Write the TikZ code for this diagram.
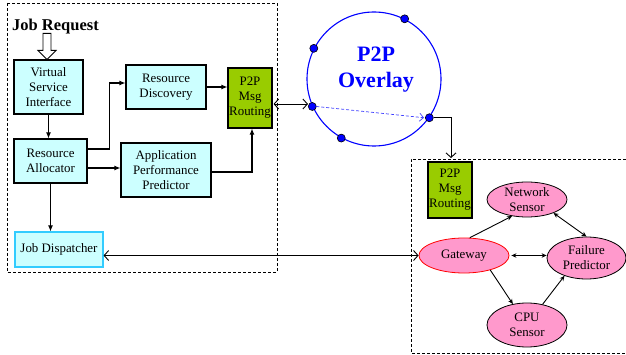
\documentclass[tikz,border=0pt]{standalone}
\usepackage{fontspec}
\setmainfont{Liberation Serif}
\usetikzlibrary{arrows.meta,shapes.geometric,calc}
\definecolor{lcyan}{HTML}{CCFFFF}
\definecolor{pgreen}{HTML}{99CC00}
\definecolor{epink}{HTML}{FF99CC}
\definecolor{jdb}{HTML}{33CCFF}
\definecolor{ovblue}{HTML}{0000FF}
\begin{document}
\begin{tikzpicture}[x=1pt,y=-1pt,
  txt/.style={font=\fontsize{12.9}{15}\selectfont, align=center, inner sep=0pt},
  box/.style={txt, draw, line width=1.1pt, fill=lcyan},
  gbox/.style={txt, draw, line width=1.1pt, fill=pgreen},
  ell/.style={txt, ellipse, draw, line width=0.8pt, fill=epink},
  frame/.style={line width=0.8pt, dash pattern=on 3pt off 2pt},
  arrL/.style={-{Latex[length=6pt,width=5pt]}, line width=1.1pt},
  arrR/.style={-{Stealth[length=5pt,width=4.5pt]}, line width=0.9pt},
  arrRR/.style={{Stealth[length=5pt,width=4.5pt]}-{Stealth[length=5pt,width=4.5pt]}, line width=0.9pt},
  barb/.style={{Straight Barb[length=4.5pt,width=10pt]}-{Straight Barb[length=4.5pt,width=10pt]}, line width=0.9pt},
  barbone/.style={-{Straight Barb[length=4.5pt,width=10pt]}, line width=0.9pt},
  dot/.style={circle, draw=black, fill=ovblue, line width=0.6pt, minimum size=8pt, inner sep=0pt}
]
\useasboundingbox (0,0) rectangle (626,355);
% frames
\draw[frame] (7,3) rectangle (277,272);
\draw[frame] (626,159) -- (411,159) -- (411,353) -- (626,353);

% left part
\node[anchor=west, inner sep=0pt, font=\fontsize{16.5}{18}\selectfont\bfseries] (jr) at (12,27) {Job Request};
\node[box, minimum width=69pt, minimum height=54pt] (vsi) at (48.5,87) {Virtual\\Service\\Interface};
\node[box, minimum width=80pt, minimum height=44pt] (rd) at (166,87) {Resource\\Discovery};
\node[gbox, minimum width=44pt, minimum height=60pt] (p2pl) at (250,98) {P2P\\Msg\\Routing};
\node[box, minimum width=73pt, minimum height=44pt] (ra) at (50.5,161) {Resource\\Allocator};
\node[box, minimum width=90pt, minimum height=54pt] (app) at (166,170) {Application\\Performance\\Predictor};
\node[box, draw=jdb, minimum width=88pt, minimum height=35pt] (jd) at (59,249.5) {Job Dispatcher};

% hollow arrow
\draw[line width=0.9pt, fill=white] ([xshift=-1.5pt]vsi.north) -- ++(-9,-9) -- ++(5,0) -- ++(0,-17) -- ++(8,0) -- ++(0,17) -- ++(5,0) -- cycle;

% left arrows
\draw[arrL] (vsi.south) -- (vsi.south |- ra.north);
\coordinate (raU) at ([yshift=12pt]ra.east);
\coordinate (rdIn) at ([yshift=4pt]rd.west);
\draw[arrL] (raU) -- ++(22,0) |- (rdIn);
\coordinate (raD) at ([yshift=-7pt]ra.east);
\draw[arrL] (raD) -- (raD -| app.west);
\draw[arrL] (rd.east) -- (rd.east -| p2pl.west);
\coordinate (apO) at ([yshift=-2pt]app.east);
\coordinate (p2pIn) at ([xshift=2pt]p2pl.south);
\draw[arrL] (apO) -| (p2pIn);
\draw[arrL] (ra.south) -- (ra.south |- jd.north);

% overlay
\node[circle, draw=ovblue, line width=1.1pt, minimum size=134pt, inner sep=0pt] (ov) at (374,79) {};
\node[inner sep=0pt, align=center, text=ovblue, font=\fontsize{22}{26}\selectfont\bfseries] (ovt) at (376,70) {P2P\\Overlay};
\node[dot] (d1) at (ov.63) {};
\node[dot] (d2) at (ov.153) {};
\node[dot] (d3) at (ov.204) {};
\node[dot] (d4) at (ov.241) {};
\node[dot] (d5) at (ov.325) {};

\coordinate (pA) at ([yshift=-6pt]p2pl.east);
\draw[barb, shorten <=1pt] (pA) -- (pA -| d3.west);
\draw[ovblue!75, line width=0.7pt, dash pattern=on 3pt off 2pt, -{Straight Barb[length=4pt,width=8pt]}] (d3.center) ++(4,0) -- ([xshift=-1pt]d5.west);

% right part
\coordinate (rbTop) at (451,158);
\draw[barbone] (d5.east) -| (rbTop);
\node[gbox, minimum width=44pt, minimum height=56pt] (p2pr) at (450,190) {P2P\\Msg\\Routing};
\node[ell, minimum width=80pt, minimum height=35pt] (ns) at (527,199.5) {Network\\Sensor};
\node[ell, draw=red, minimum width=90pt, minimum height=35pt] (gw) at (464,255.5) {Gateway};
\node[ell, minimum width=79pt, minimum height=42pt] (fp) at (586.5,258) {Failure\\Predictor};
\node[ell, minimum width=80pt, minimum height=44pt] (cpu) at (527,325) {CPU\\Sensor};

\draw[arrR] (gw.72) -- (ns.228);
\draw[arrR] (gw.-29) -- (cpu.124);
\draw[arrR] (cpu.53) -- (fp.219);
\draw[arrRR] (ns.-27) -- (fp.north);
\draw[arrRR, shorten <=2pt] (gw.east) -- (gw.east -| fp.west);
\draw[barb] (gw.west) -- (gw.west -| jd.east);
\end{tikzpicture}
\end{document}
